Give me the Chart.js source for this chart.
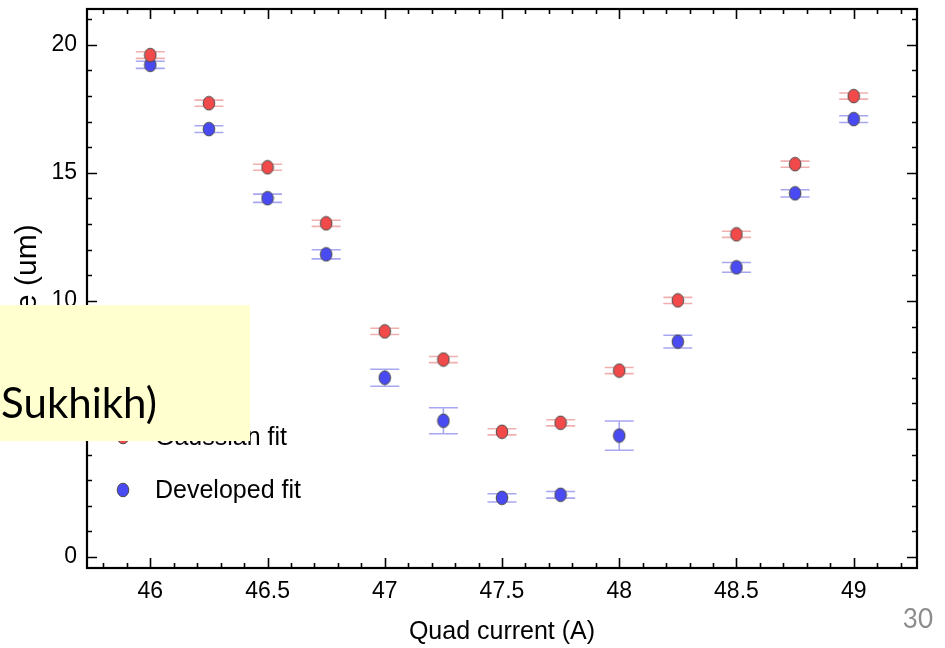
<!DOCTYPE html>
<html>
<head>
<meta charset="utf-8">
<script src="https://cdn.jsdelivr.net/npm/chart.js@4.4.1/dist/chart.umd.min.js"></script>
<style>
  html, body { margin: 0; padding: 0; background: #ffffff; overflow: hidden; }
  #wrap { position: relative; width: 945px; height: 648px; }
</style>
</head>
<body>
<div id="wrap"><canvas id="c" width="945" height="648"></canvas></div>
<script>
// Quadrupole scan: beam size vs. quad current, two fitting methods
const current      = [46, 46.25, 46.5, 46.75, 47, 47.25, 47.5, 47.75, 48, 48.25, 48.5, 48.75, 49];
const gaussian     = [19.6, 17.72, 15.22, 13.03, 8.81, 7.71, 4.89, 5.24, 7.28, 10.02, 12.6, 15.34, 18.0];
const gaussianErr  = [0.13, 0.12, 0.12, 0.12, 0.12, 0.12, 0.12, 0.12, 0.12, 0.12, 0.12, 0.12, 0.12];
const developed    = [19.22, 16.71, 14.01, 11.82, 7.0, 5.32, 2.31, 2.43, 4.74, 8.41, 11.31, 14.2, 17.1];
const developedErr = [0.14, 0.13, 0.16, 0.18, 0.33, 0.51, 0.16, 0.13, 0.57, 0.25, 0.19, 0.14, 0.13];
const seriesNames  = ['Gaussian fit', 'Developed fit'];
const xMajorStep = 0.5, xMinorStep = 0.1;
const yMajorStep = 5,   yMinorStep = 1;

const FONT = "'Liberation Sans', Arial, Helvetica, sans-serif";

// Slightly tall elliptical marker with a dark outline
function marker(fill) {
  const c = document.createElement('canvas');
  c.width = 14; c.height = 16;
  const g = c.getContext('2d');
  g.beginPath();
  g.ellipse(7, 8, 5.8, 6.8, 0, 0, Math.PI * 2);
  g.fillStyle = fill;
  g.fill();
  g.lineWidth = 1;
  g.strokeStyle = '#4a4a4a';
  g.stroke();
  return c;
}
const redMarker  = marker('#f24a4a');
const blueMarker = marker('#4a4af2');

function points(ys, errs) {
  return current.map((x, i) => ({ x: x, y: ys[i], err: errs[i] }));
}

function isMultiple(v, step) {
  const r = v / step;
  return Math.abs(r - Math.round(r)) < 1e-6;
}

// Error bars with caps, drawn beneath the markers
const errorBars = {
  id: 'errorBars',
  beforeDatasetsDraw(chart) {
    const { ctx, scales: { x, y } } = chart;
    chart.data.datasets.forEach((ds, i) => {
      if (!chart.isDatasetVisible(i)) return;
      ctx.save();
      ctx.strokeStyle = ds.errorColor;
      ctx.lineWidth = 1.6;
      ds.data.forEach(p => {
        const px = x.getPixelForValue(p.x);
        const top = y.getPixelForValue(p.y + p.err);
        const bot = y.getPixelForValue(p.y - p.err);
        const w = 14.5;
        ctx.beginPath();
        ctx.moveTo(px, top); ctx.lineTo(px, bot);
        ctx.moveTo(px - w, top); ctx.lineTo(px + w, top);
        ctx.moveTo(px - w, bot); ctx.lineTo(px + w, bot);
        ctx.stroke();
      });
      ctx.restore();
    });
  }
};

// Boxed frame with inward ticks on all four sides, in-plot legend, note box, page number
const decorations = {
  id: 'decorations',
  afterDraw(chart) {
    const { ctx, chartArea: a, scales: { x, y } } = chart;
    ctx.save();
    ctx.strokeStyle = '#000';
    ctx.lineWidth = 1.6;
    ctx.beginPath();
    x.ticks.forEach(t => {
      const px = Math.round(x.getPixelForValue(t.value)) + 0.5;
      const len = isMultiple(t.value, xMajorStep) ? 10 : 5;
      ctx.moveTo(px, a.bottom); ctx.lineTo(px, a.bottom - len);
      ctx.moveTo(px, a.top); ctx.lineTo(px, a.top + len);
    });
    y.ticks.forEach(t => {
      const py = Math.round(y.getPixelForValue(t.value)) + 0.5;
      const len = isMultiple(t.value, yMajorStep) ? 10 : 5;
      ctx.moveTo(a.left, py); ctx.lineTo(a.left + len, py);
      ctx.moveTo(a.right, py); ctx.lineTo(a.right - len, py);
    });
    ctx.stroke();
    ctx.lineWidth = 2.2;
    ctx.strokeRect(a.left, a.top, a.right - a.left, a.bottom - a.top);

    // legend inside the plot, lower left
    const entries = [
      { img: redMarker,  label: chart.data.datasets[0].label, yy: 437 },
      { img: blueMarker, label: chart.data.datasets[1].label, yy: 490 }
    ];
    ctx.font = '25px ' + FONT;
    ctx.fillStyle = '#000';
    ctx.textBaseline = 'middle';
    ctx.textAlign = 'left';
    entries.forEach(e => {
      ctx.drawImage(e.img, 123 - e.img.width / 2, e.yy - e.img.height / 2);
      ctx.fillText(e.label, 155, e.yy + 1);
    });

    // yellow note box over the left side
    ctx.fillStyle = '#ffffcf';
    ctx.fillRect(0, 305, 250, 136);
    ctx.fillStyle = '#000';
    ctx.font = "42px Lato, 'Open Sans', sans-serif";
    ctx.textAlign = 'right';
    ctx.textBaseline = 'alphabetic';
    ctx.fillText('(data: A. Sukhikh)', 157, 418);

    // page number
    ctx.fillStyle = '#8c8c8c';
    ctx.font = "26px Lato, 'Open Sans', sans-serif";
    ctx.fillText('30', 933, 628);
    ctx.restore();
  }
};

new Chart(document.getElementById('c'), {
  type: 'scatter',
  data: {
    datasets: [
      {
        label: seriesNames[0],
        data: points(gaussian, gaussianErr),
        pointStyle: redMarker,
        errorColor: 'rgba(232, 110, 110, 0.55)',
        order: 0
      },
      {
        label: seriesNames[1],
        data: points(developed, developedErr),
        pointStyle: blueMarker,
        errorColor: 'rgba(110, 110, 232, 0.6)',
        order: 1
      }
    ]
  },
  options: {
    responsive: false,
    animation: false,
    events: [],
    layout: { padding: { left: 0, top: 9, right: 28, bottom: 0 } },
    plugins: { legend: { display: false }, tooltip: { enabled: false } },
    scales: {
      x: {
        type: 'linear',
        position: 'bottom',
        min: 45.73,
        max: 49.27,
        grid: { display: false, drawTicks: false },
        border: { display: false },
        afterFit(s) { s.height = 80; s.paddingLeft = 0; s.paddingRight = 0; },
        ticks: {
          stepSize: xMinorStep,
          includeBounds: false,
          autoSkip: false,
          maxRotation: 0,
          padding: 10,
          color: '#000',
          font: { family: FONT, size: 23 },
          callback: v => isMultiple(v, xMajorStep) ? String(Number(v.toFixed(1))) : ''
        },
        title: {
          display: true,
          text: 'Quad current (A)',
          color: '#000',
          font: { family: FONT, size: 25 },
          padding: { top: 0, bottom: 1 }
        }
      },
      y: {
        type: 'linear',
        min: -0.43,
        max: 21.4,
        grid: { display: false, drawTicks: false },
        border: { display: false },
        afterFit(s) { s.width = 87; s.paddingTop = 0; s.paddingBottom = 0; },
        ticks: {
          stepSize: yMinorStep,
          includeBounds: false,
          autoSkip: false,
          padding: 10,
          color: '#000',
          font: { family: FONT, size: 23 },
          callback: v => isMultiple(v, yMajorStep) ? String(Math.round(v)) : ''
        },
        title: {
          display: true,
          text: 'Size (um)',
          color: '#000',
          font: { family: FONT, size: 30 },
          padding: { top: 10, bottom: 0 }
        }
      }
    }
  },
  plugins: [errorBars, decorations]
});
</script>
</body>
</html>
